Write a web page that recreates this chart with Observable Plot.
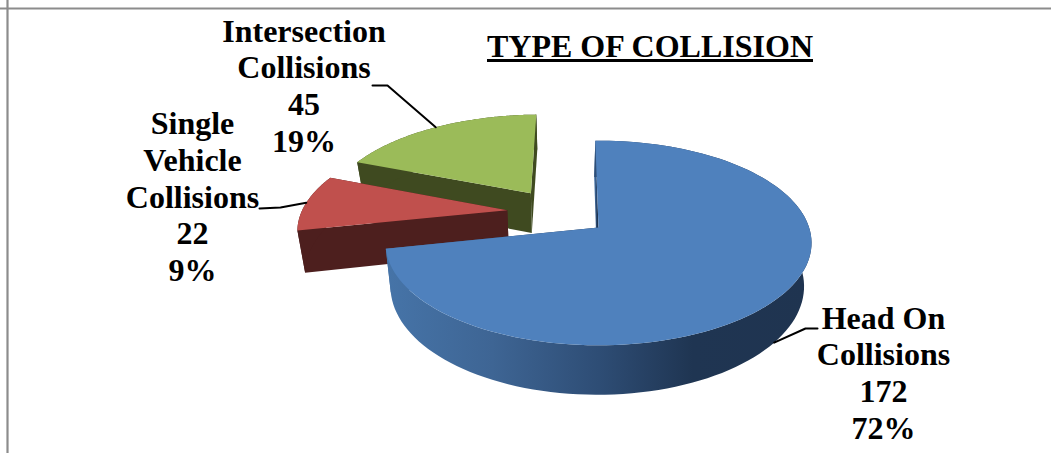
<!DOCTYPE html>
<html>
<head>
<meta charset="utf-8">
<style>
  html, body { margin: 0; padding: 0; background: #fff; }
</style>
<script src="https://cdn.jsdelivr.net/npm/d3@7"></script>
<script src="https://cdn.jsdelivr.net/npm/@observablehq/plot@0.6"></script>
</head>
<body>
<div id="chart"></div>
<script>
// Collision counts, in the clockwise order of the pie.
const categories = ["Head On\nCollisions", "Single\nVehicle\nCollisions", "Intersection\nCollisions"];
const counts = [172, 22, 45];
const faceColors = ["#4f81bd", "#c0504d", "#9bbb59"];
const wallColors = ["url(#headOnWall)", "#4d1f1e", "#3f4a20"];
const chartTitle = "TYPE OF COLLISION";

const width = 1051, height = 453;

// Pie model: unit radius, first slice's apex at the origin, Y toward the viewer.
const startAngle = -1;      // degrees clockwise from twelve o'clock
const explode = 0.25;       // radial pull of each slice
const tilt = 0.151;         // perspective foreshortening along Y
const thickness = 0.42;     // height of the pie in projected units
const taper = 0.03;         // lower rim narrows toward the pie's centre
const pxPerUnitX = 210.6, pxPerUnitY = 100, originX = 598, originY = 227;

const rad = (d) => (d * Math.PI) / 180;
const total = d3.sum(counts);
const dir = (deg) => [Math.sin(rad(deg)), -Math.cos(rad(deg))];

// Angular extent of each slice, from the counts.
let running = startAngle;
const slices = counts.map((count, i) => {
  const a0 = running;
  const a1 = a0 + (count / total) * 360;
  running = a1;
  return {i, count, a0, a1, mid: (a0 + a1) / 2};
});

// The first slice sits at the origin, which places the pie's true centre.
const firstDir = dir(slices[0].mid);
const centre = [-explode * firstDir[0], -explode * firstDir[1]];
slices.forEach((s) => {
  const d = dir(s.mid);
  s.apex = [centre[0] + explode * d[0], centre[1] + explode * d[1]];
});

// Perspective projection of a point on the top (z = 0) or bottom (z = 1) rim.
const project = ([X, Y], z = 0) => {
  const s = 1 / (1 - tilt * Y);
  return {u: X * s + (centre[0] - X) * taper * z, v: (Y + thickness * z) * s};
};
const rimPoint = (s, deg) => {
  const d = dir(deg);
  return [s.apex[0] + d[0], s.apex[1] + d[1]];
};
const arcAngles = (s) => d3.range(0, 1.0001, 1 / 120).map((t) => s.a0 + (s.a1 - s.a0) * t);

const topFace = (s) => [project(s.apex), ...arcAngles(s).map((a) => project(rimPoint(s, a)))];
const rimWall = (s) => [
  ...arcAngles(s).map((a) => project(rimPoint(s, a))),
  ...arcAngles(s).reverse().map((a) => project(rimPoint(s, a), 1))
];
const radialWall = (s, deg) => [
  project(s.apex), project(rimPoint(s, deg)), project(rimPoint(s, deg), 1), project(s.apex, 1)
];

const polygon = (points, fill) => Plot.line(points, {x: "u", y: "v", fill, stroke: "none"});

// Back slices first, so the large slice overlaps them.
const paintOrder = [slices[2], slices[1], slices[0]];
const sliceMarks = paintOrder.flatMap((s) => [
  polygon(radialWall(s, s.a1), wallColors[s.i]),
  polygon(radialWall(s, s.a0), wallColors[s.i]),
  polygon(rimWall(s), wallColors[s.i]),
  polygon(topFace(s), faceColors[s.i])
]);

// Screen position conversions for the annotation layer.
const unitX = (px) => (px - originX) / pxPerUnitX;
const unitY = (py) => (py - originY) / pxPerUnitY;

// Leader lines run from the middle of each slice's rim to its label.
const leaderRoutes = [
  {slice: 0, rimLevel: 1, route: [[805, 328], [817, 328]]},
  {slice: 1, rimLevel: 0, route: [[280, 207], [259, 208]]},
  {slice: 2, rimLevel: 0, route: [[387, 85], [372, 85]]}
];
const leaderMarks = leaderRoutes.map(({slice, rimLevel, route}) => {
  const s = slices[slice];
  const points = [
    project(rimPoint(s, s.mid), rimLevel),
    ...route.map(([px, py]) => ({u: unitX(px), v: unitY(py)}))
  ];
  return Plot.line(points, {x: "u", y: "v", stroke: "#000", strokeWidth: 2});
});

const labelFont = {
  fontFamily: "'Liberation Serif', 'Times New Roman', serif",
  fontSize: 32,
  fontWeight: "bold",
  fill: "#000"
};
const labelCentres = [[883, 371.5], [192, 195.5], [303.5, 84.5]];
const labelMarks = slices.map((s) => {
  const share = Math.round((s.count / total) * 100);
  const text = `${categories[s.i]}\n${s.count}\n${share}%`;
  const [dx, dy] = labelCentres[s.i];
  return Plot.text([text], {
    text: (d) => d,
    frameAnchor: "top-left",
    dx, dy,
    lineAnchor: "middle",
    lineHeight: 1.145,
    textAnchor: "middle",
    ...labelFont
  });
});

// Shaded gradient of the large slice's curved wall.
const wallGradient = () => {
  const defs = d3.create("svg:defs");
  const g = defs.append("linearGradient").attr("id", "headOnWall");
  [[0, "#4674a8"], [0.25, "#3e6594"], [0.5, "#2e4d75"], [0.72, "#1f3552"], [1, "#1f3450"]]
    .forEach(([offset, color]) => g.append("stop").attr("offset", offset).attr("stop-color", color));
  return defs.node();
};

const chart = Plot.plot({
  width, height,
  margin: 0,
  style: {background: "#fff"},
  x: {axis: null, domain: [unitX(0), unitX(width)], range: [0, width]},
  y: {axis: null, domain: [unitY(0), unitY(height)], range: [0, height]},
  marks: [
    wallGradient,
    Plot.ruleX([unitX(7)], {stroke: "#8c8c8c", strokeWidth: 2.2}),
    Plot.ruleY([unitY(8)], {stroke: "#8c8c8c", strokeWidth: 2}),
    ...sliceMarks,
    ...leaderMarks,
    ...labelMarks,
    Plot.text([chartTitle], {
      text: (d) => d,
      frameAnchor: "top-left",
      dx: 649.5, dy: 46,
      lineAnchor: "middle",
      textAnchor: "middle",
      ...labelFont
    }),
    // Title underline
    Plot.ruleY([unitY(60)], {x1: unitX(487), x2: unitX(813), stroke: "#000", strokeWidth: 3})
  ]
});
document.getElementById("chart").append(chart);
</script>
</body>
</html>
